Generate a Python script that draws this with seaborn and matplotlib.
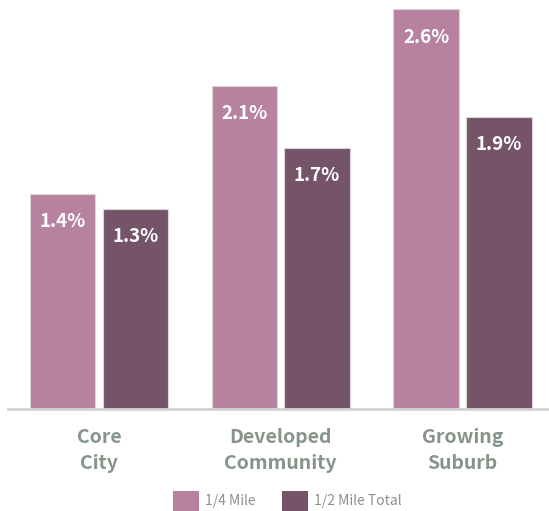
import matplotlib
matplotlib.use("Agg")
import matplotlib.pyplot as plt
import seaborn as sns
import pandas as pd
from matplotlib.patches import Patch

# Data
areas = ["Core\nCity", "Developed\nCommunity", "Growing\nSuburb"]
quarter_mile = [1.4, 2.1, 2.6]
half_mile_total = [1.3, 1.7, 1.9]
series_names = ["1/4 Mile", "1/2 Mile Total"]

colors = ["#b6829f", "#755469"]
tick_color = "#86948a"
legend_text_color = "#8d918d"

df = pd.DataFrame({
    "area": areas * 2,
    "share": quarter_mile + half_mile_total,
    "series": [series_names[0]] * 3 + [series_names[1]] * 3,
})

sns.set_theme(style="white")
plt.rcParams["font.family"] = ["Noto Sans CJK SC", "DejaVu Sans"]

fig = plt.figure(figsize=(5.49, 5.11), dpi=100)
ax = fig.add_axes([8 / 549, 102 / 511, 540 / 549, 409 / 511])

sns.barplot(data=df, x="area", y="share", hue="series", order=areas,
            hue_order=series_names, palette=colors, saturation=1,
            width=0.8, gap=0.1, edgecolor="#ddd5da", linewidth=0.8,
            legend=False, ax=ax)

ax.set_xlim(-0.5, 2.47)
ax.set_ylim(0, 2.66)

# Value labels inside the top of each bar
for container in ax.containers:
    for bar in container:
        v = bar.get_height()
        ax.annotate(f"{v:.1f}%", (bar.get_x() + bar.get_width() / 2, v),
                    xytext=(0, -20), textcoords="offset points",
                    ha="center", va="center", color="white",
                    fontsize=13.5, fontweight="bold")

for s in ["top", "right", "left"]:
    ax.spines[s].set_visible(False)
ax.spines["bottom"].set_color("#d3d3d3")
ax.spines["bottom"].set_linewidth(2)
ax.set_yticks([])
ax.set_xlabel("")
ax.set_ylabel("")
ax.tick_params(axis="x", length=0, pad=14)
for lbl in ax.get_xticklabels():
    lbl.set_color(tick_color)
    lbl.set_fontsize(14)
    lbl.set_fontweight("bold")
    lbl.set_linespacing(1.45)

handles = [Patch(facecolor=c, edgecolor="none") for c in colors]
leg = fig.legend(handles, series_names, loc="center",
                 bbox_to_anchor=(0.523, 0.02), ncol=2, frameon=False,
                 fontsize=10, handlelength=1.86, handleheight=1.86,
                 columnspacing=1.9, handletextpad=0.45,
                 borderpad=0, borderaxespad=0)
for t in leg.get_texts():
    t.set_color(legend_text_color)

fig.savefig("out.png", dpi=100)
